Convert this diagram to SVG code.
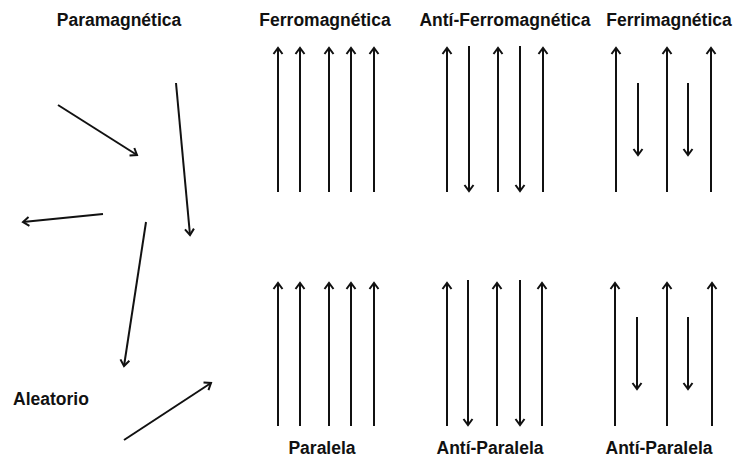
<svg xmlns="http://www.w3.org/2000/svg" width="734" height="461" viewBox="0 0 734 461">
  <defs>
    <marker id="head" markerUnits="userSpaceOnUse" markerWidth="14" markerHeight="14" viewBox="-8 -7 10 14" refX="0" refY="0" orient="auto">
      <path d="M-6,-4.5 L0,0 L-6,4.5" fill="none" stroke="#111" stroke-width="2" stroke-linejoin="miter"/>
    </marker>
    <style>
      .lbl { font-family: "Liberation Sans", Arial, sans-serif; font-weight: bold; font-size: 17.5px; fill: #111; text-anchor: middle; }
      .spin { stroke: #111; stroke-width: 2; fill: none; marker-end: url(#head); }
    </style>
  </defs>
  <rect width="734" height="461" fill="#fff"/>

  <!-- Paramagnetic: randomly oriented moments -->
  <g id="paramagnetica">
    <text class="lbl" x="119" y="26">Paramagnética</text>
    <text class="lbl" x="51" y="405">Aleatorio</text>
    <line class="spin" x1="58" y1="105" x2="137" y2="155"/>
    <line class="spin" x1="176" y1="83" x2="190" y2="235"/>
    <line class="spin" x1="103" y1="214" x2="23" y2="222"/>
    <line class="spin" x1="146" y1="222" x2="124" y2="366"/>
    <line class="spin" x1="124" y1="440" x2="211" y2="383"/>
  </g>

  <!-- Ferromagnetic: all moments parallel -->
  <g id="ferromagnetica">
    <text class="lbl" x="325" y="26">Ferromagnética</text>
    <line class="spin" x1="278" y1="192" x2="278" y2="48"/>
    <line class="spin" x1="300" y1="192" x2="300" y2="48"/>
    <line class="spin" x1="329" y1="192" x2="329" y2="48"/>
    <line class="spin" x1="351" y1="192" x2="351" y2="48"/>
    <line class="spin" x1="374" y1="192" x2="374" y2="48"/>
  </g>

  <!-- Antiferromagnetic: equal moments, alternating -->
  <g id="antiferromagnetica">
    <text class="lbl" x="505" y="26">Antí-Ferromagnética</text>
    <line class="spin" x1="447" y1="192" x2="447" y2="48"/>
    <line class="spin" x1="469" y1="46" x2="469" y2="191"/>
    <line class="spin" x1="498" y1="192" x2="498" y2="48"/>
    <line class="spin" x1="520" y1="46" x2="520" y2="191"/>
    <line class="spin" x1="543" y1="192" x2="543" y2="48"/>
  </g>

  <!-- Ferrimagnetic: unequal moments, alternating -->
  <g id="ferrimagnetica">
    <text class="lbl" x="669" y="26">Ferrimagnética</text>
    <line class="spin" x1="616" y1="192" x2="616" y2="48"/>
    <line class="spin" x1="638" y1="83" x2="638" y2="155"/>
    <line class="spin" x1="667" y1="192" x2="667" y2="48"/>
    <line class="spin" x1="688" y1="83" x2="688" y2="155"/>
    <line class="spin" x1="711" y1="192" x2="711" y2="48"/>
  </g>

  <!-- Lower row -->
  <g id="paralela">
    <text class="lbl" x="322" y="454">Paralela</text>
    <line class="spin" x1="278" y1="426" x2="278" y2="283"/>
    <line class="spin" x1="300" y1="426" x2="300" y2="283"/>
    <line class="spin" x1="329" y1="426" x2="329" y2="283"/>
    <line class="spin" x1="351" y1="426" x2="351" y2="283"/>
    <line class="spin" x1="374" y1="426" x2="374" y2="283"/>
  </g>

  <g id="antiparalela-1">
    <text class="lbl" x="490" y="454">Antí-Paralela</text>
    <line class="spin" x1="447" y1="426" x2="447" y2="283"/>
    <line class="spin" x1="468" y1="280" x2="468" y2="425"/>
    <line class="spin" x1="497" y1="426" x2="497" y2="283"/>
    <line class="spin" x1="520" y1="280" x2="520" y2="425"/>
    <line class="spin" x1="542" y1="426" x2="542" y2="283"/>
  </g>

  <g id="antiparalela-2">
    <text class="lbl" x="659" y="454">Antí-Paralela</text>
    <line class="spin" x1="615" y1="426" x2="615" y2="283"/>
    <line class="spin" x1="637" y1="317" x2="637" y2="389"/>
    <line class="spin" x1="667" y1="426" x2="667" y2="283"/>
    <line class="spin" x1="688" y1="317" x2="688" y2="389"/>
    <line class="spin" x1="712" y1="426" x2="712" y2="283"/>
  </g>
</svg>
